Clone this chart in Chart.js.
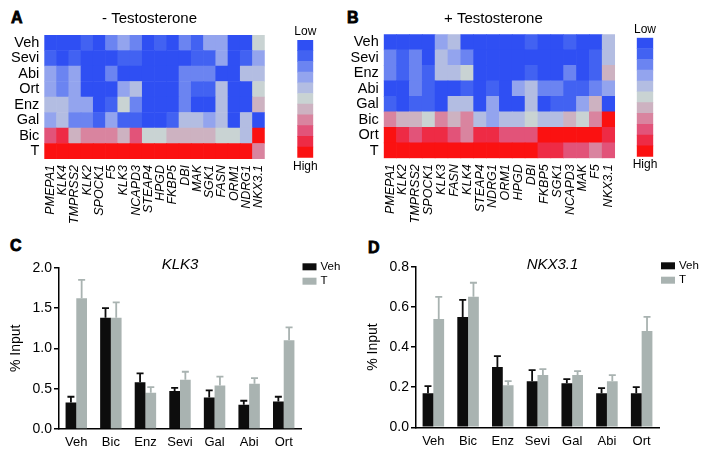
<!DOCTYPE html>
<html><head><meta charset="utf-8">
<script src="https://cdn.jsdelivr.net/npm/chart.js@4.4.0/dist/chart.umd.min.js"></script>
<style>
html,body{margin:0;padding:0;background:#fff;width:714px;height:459px;overflow:hidden;font-family:"Liberation Sans",Arial,sans-serif}
canvas{position:absolute}
.lt{position:absolute;font-weight:bold;font-size:16px;line-height:16px;-webkit-text-stroke:0.8px #000;color:#000;font-family:"Liberation Sans",Arial,sans-serif}
</style></head><body>
<div class="lt" style="left:11px;top:10px">A</div>
<div class="lt" style="left:347px;top:10px">B</div>
<div class="lt" style="left:10px;top:238px">C</div>
<div class="lt" style="left:368px;top:240px">D</div>
<canvas id="hA" width="280" height="230" style="left:0;top:0"></canvas>
<canvas id="cbA" width="40" height="160" style="left:285px;top:20px"></canvas>
<canvas id="hB" width="290" height="230" style="left:340px;top:0"></canvas>
<canvas id="cbB" width="40" height="160" style="left:625px;top:20px"></canvas>
<canvas id="bC" width="357" height="229" style="left:0;top:230px"></canvas>
<canvas id="bD" width="357" height="229" style="left:357px;top:230px"></canvas>
<script>
// ---------- Data ----------
// Heatmap A (- Testosterone): relative expression level 0 (low) .. 10 (high)
const genesA = ['PMEPA1','KLK4','TMPRSS2','KLK2','SPOCK1','F5','KLK3','NCAPD3','STEAP4','HPGD','FKBP5','DBI','MAK','SGK1','FASN','ORM1','NDRG1','NKX3.1'];
const rowsA = ['Veh','Sevi','Abi','Ort','Enz','Gal','Bic','T'];
const levelsA_Veh  = [0,0,0,1,0,2,3,2,0,1,0,2,1,3,3,0,0,5];
const levelsA_Sevi = [1,0,1,0,0,0,1,1,0,0,0,0,1,1,3,0,1,3];
const levelsA_Abi  = [3,2,3,0,0,2,0,0,0,0,0,2,2,2,0,0,4,4];
const levelsA_Ort  = [3,2,3,0,0,0,3,4,0,0,0,2,1,1,4,0,0,5];
const levelsA_Enz  = [4,4,3,3,0,1,5,2,0,0,0,2,0,0,4,0,0,6];
const levelsA_Gal  = [3,4,2,2,1,3,1,1,0,0,1,4,4,3,4,0,4,0];
const levelsA_Bic  = [8,9,6,7,7,7,6,8,5,5,6,6,6,6,5,5,4,10];
const levelsA_T    = [10,10,10,10,10,10,10,10,10,10,10,10,10,10,10,10,10,7];

// Heatmap B (+ Testosterone)
const genesB = ['PMEPA1','KLK2','TMPRSS2','SPOCK1','KLK3','FASN','KLK4','STEAP4','NDRG1','ORM1','HPGD','DBI','FKBP5','SGK1','NCAPD3','MAK','F5','NKX3.1'];
const rowsB = ['Veh','Sevi','Enz','Abi','Gal','Bic','Ort','T'];
const levelsB_Veh  = [0,0,0,0,3,4,0,0,0,0,0,1,0,0,1,0,0,4];
const levelsB_Sevi = [2,1,2,0,4,3,2,0,0,0,0,0,0,0,0,0,1,4];
const levelsB_Enz  = [2,1,2,1,4,4,5,0,0,0,0,1,0,0,2,0,1,6];
const levelsB_Abi  = [0,0,2,1,0,0,1,0,1,0,3,4,2,2,1,1,2,3];
const levelsB_Gal  = [1,0,1,1,0,4,4,0,3,0,0,4,0,1,1,3,6,0];
const levelsB_Bic  = [7,6,6,5,7,6,7,4,3,4,4,5,4,4,6,5,7,10];
const levelsB_Ort  = [10,9,8,9,9,8,7,9,9,8,8,8,10,10,10,10,10,9];
const levelsB_T    = [10,10,10,10,10,10,10,10,10,10,10,10,9,9,8,8,7,8];

// ChIP bar charts
const groups = ['Veh','Bic','Enz','Sevi','Gal','Abi','Ort'];
const klk3Veh    = [0.33,1.38,0.58,0.47,0.39,0.30,0.34];
const klk3VehErr = [0.07,0.12,0.11,0.04,0.09,0.05,0.06];
const klk3T      = [1.62,1.38,0.45,0.61,0.54,0.56,1.10];
const klk3TErr   = [0.23,0.19,0.07,0.10,0.11,0.07,0.16];
const nkxVeh     = [0.17,0.55,0.30,0.23,0.22,0.17,0.17];
const nkxVehErr  = [0.035,0.085,0.055,0.055,0.02,0.025,0.03];
const nkxT       = [0.54,0.65,0.21,0.26,0.26,0.23,0.48];
const nkxTErr    = [0.11,0.07,0.02,0.03,0.02,0.03,0.07];

// ---------- Styles ----------
const palette = ['#2f4ff3','#4262f2','#6b84f1','#93a4ee','#b3bde2','#c9d3d3','#cdb2c1','#d9849f','#e25379','#ee2b45','#fb1111'];
const FONT = '"Liberation Sans", Arial, sans-serif';
Chart.defaults.font.family = FONT;
Chart.defaults.color = '#000';
Chart.defaults.animation = false;

const annot = {
  id:'annot',
  afterDraw(chart, args, opts){
    const ca = chart.chartArea, ctx = chart.ctx;
    (opts.items||[]).forEach(t=>{
      ctx.save();
      ctx.font = t.font; ctx.fillStyle = '#000';
      ctx.textAlign = 'center'; ctx.textBaseline = 'middle';
      const x = (ca.left+ca.right)/2 + (t.dx||0);
      const y = (t.anchor==='bottom' ? ca.bottom : ca.top) + (t.dy||0);
      ctx.fillText(t.text, x, y);
      ctx.restore();
    });
  }
};
const boxLegend = {
  id:'boxLegend',
  afterDraw(chart, args, o){
    const ca = chart.chartArea, ctx = chart.ctx;
    chart.data.datasets.forEach((ds,i)=>{
      const x = ca.right + o.dx, y = ca.top + o.dy + i*o.step;
      ctx.save();
      ctx.fillStyle = ds.backgroundColor;
      ctx.fillRect(x, y, o.boxW, o.boxH);
      ctx.fillStyle = '#000'; ctx.font = o.font; ctx.textBaseline = 'middle'; ctx.textAlign = 'left';
      ctx.fillText(ds.label, x + o.boxW + o.gap, y + o.boxH/2);
      ctx.restore();
    });
  }
};
const errBars = {
  id:'errBars',
  afterDatasetsDraw(chart, args, o){
    const ctx = chart.ctx, ys = chart.scales.y;
    chart.data.datasets.forEach((ds,i)=>{
      const meta = chart.getDatasetMeta(i);
      meta.data.forEach((bar,j)=>{
        const top = ys.getPixelForValue(ds.data[j] + ds.errors[j]);
        ctx.save();
        ctx.strokeStyle = ds.backgroundColor; ctx.lineWidth = o.lineWidth;
        ctx.beginPath();
        ctx.moveTo(bar.x, bar.y); ctx.lineTo(bar.x, top);
        ctx.moveTo(bar.x - o.cap/2, top); ctx.lineTo(bar.x + o.cap/2, top);
        ctx.stroke(); ctx.restore();
      });
    });
  }
};

function heatmap(id, genes, rows, levels, o){
  const datasets = rows.map((r,i)=>({
    label:r, data: genes.map(()=>1),
    backgroundColor: levels[i].map(l=>palette[l])
  })).reverse();
  new Chart(document.getElementById(id), {
    type:'bar',
    data:{labels:genes, datasets},
    options:{
      responsive:false, animation:false,
      layout:{padding:o.pad},
      datasets:{bar:{barPercentage:1, categoryPercentage:1, borderWidth:0}},
      plugins:{legend:{display:false}, tooltip:{enabled:false},
        annot:{items:[{text:o.title, font:'15px '+FONT, dx:o.titleDx, dy:o.titleDy}]}},
      scales:{
        x:{stacked:true, grid:{display:false, drawTicks:false}, border:{display:false},
           ticks:{autoSkip:false, maxRotation:90, minRotation:90, font:{size:12.5, style:'italic'}, padding:6, color:'#000'},
           afterFit(s){ s.height = o.xH; }},
        y:{stacked:true, display:false, min:0, max:rows.length},
        rows:{type:'category', labels:rows, position:'left', offset:true,
           grid:{display:false, drawTicks:false}, border:{display:false},
           ticks:{autoSkip:false, font:{size:14.5}, padding:5, color:'#000'},
           afterFit(s){ s.width = o.yW; }}
      }
    },
    plugins:[annot]
  });
}

function colorbar(id, pad, lowDy, highDy){
  new Chart(document.getElementById(id), {
    type:'bar',
    data:{labels:[''], datasets: palette.map(c=>({data:[1], backgroundColor:c})).reverse()},
    options:{responsive:false, animation:false, layout:{padding:pad},
      datasets:{bar:{barPercentage:1, categoryPercentage:1, borderWidth:0}},
      plugins:{legend:{display:false}, tooltip:{enabled:false},
        annot:{items:[{text:'Low', font:'12px '+FONT, dy:lowDy},{text:'High', font:'12px '+FONT, anchor:'bottom', dy:highDy}]}},
      scales:{x:{display:false, stacked:true}, y:{display:false, stacked:true, min:0, max:palette.length}}},
    plugins:[annot]
  });
}

function barChart(id, vehVals, vehErr, tVals, tErr, max, step, title, o){
  new Chart(document.getElementById(id), {
    type:'bar',
    data:{labels:groups, datasets:[
      {label:'Veh', data:vehVals, errors:vehErr, backgroundColor:'#0d0d0d'},
      {label:'T', data:tVals, errors:tErr, backgroundColor:'#a9b3b1'}]},
    options:{responsive:false, animation:false, layout:{padding:o.pad},
      datasets:{bar:{categoryPercentage:0.62, barPercentage:1, borderWidth:0}},
      plugins:{legend:{display:false}, tooltip:{enabled:false},
        errBars:{lineWidth:1.8, cap:7},
        annot:{items:[{text:title, font:'italic 15px '+FONT, dx:o.titleDx, dy:o.titleDy}]},
        boxLegend:{dx:o.legDx, dy:-4.4, step:14.4, boxW:14, boxH:7, gap:4, font:'11.5px '+FONT}},
      scales:{
        x:{grid:{display:false, drawTicks:false}, border:{display:true, color:'#000', width:1.5},
           ticks:{font:{size:13}, color:'#000', padding:6}, afterFit(s){ s.height = o.xH; }},
        y:{min:0, max:max, ticks:{stepSize:step, font:{size:14}, color:'#000', padding:2, callback:v=>Number(v).toFixed(1)},
           grid:{drawOnChartArea:false, drawTicks:true, tickLength:5, color:'#000', lineWidth:1.5},
           border:{color:'#000', width:1.5},
           title:{display:true, text:'% Input', font:{size:14}, color:'#000', padding:{top:8, bottom:0}},
           afterFit(s){ s.width = 59; }}
      }},
    plugins:[errBars, annot, boxLegend]
  });
}

heatmap('hA', genesA, rowsA,
  [levelsA_Veh, levelsA_Sevi, levelsA_Abi, levelsA_Ort, levelsA_Enz, levelsA_Gal, levelsA_Bic, levelsA_T],
  {pad:{left:0, right:13.3, top:35, bottom:0}, yW:44.3, xH:71, title:'- Testosterone', titleDx:-5, titleDy:-16});
heatmap('hB', genesB, rowsB,
  [levelsB_Veh, levelsB_Sevi, levelsB_Enz, levelsB_Abi, levelsB_Gal, levelsB_Bic, levelsB_Ort, levelsB_T],
  {pad:{left:0, right:13.7, top:34.3, bottom:0}, yW:43.7, xH:71.7, title:'+ Testosterone', titleDx:-6, titleDy:-15.3});
colorbar('cbA', {left:12.3, right:11.7, top:20, bottom:22.3}, -8.3, 9);
colorbar('cbB', {left:11.7, right:11.7, top:17.7, bottom:23.3}, -7.7, 8.3);
barChart('bC', klk3Veh, klk3VehErr, klk3T, klk3TErr, 2.0, 0.5, 'KLK3',
  {pad:{left:0, right:56, top:37.7, bottom:0}, xH:30, titleDx:0, titleDy:-2.7, legDx:1.5});
barChart('bD', nkxVeh, nkxVehErr, nkxT, nkxTErr, 0.8, 0.2, 'NKX3.1',
  {pad:{left:0, right:55, top:36.7, bottom:0}, xH:31.7, titleDx:15, titleDy:-1.7, legDx:2});
</script>
</body></html>
